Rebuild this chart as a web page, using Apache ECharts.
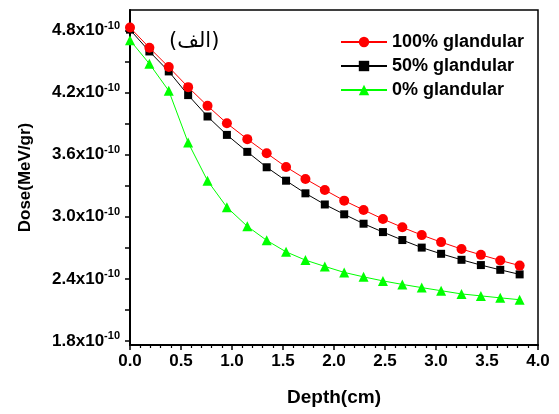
<!DOCTYPE html>
<html><head><meta charset="utf-8">
<script src="https://cdn.jsdelivr.net/npm/echarts@6/dist/echarts.min.js"></script>
<style>html,body{margin:0;padding:0;background:#fff}#c{width:559px;height:414px}</style>
</head><body><div id="c"></div>
<script>
// Depth in cm
const depth = [0, 0.19, 0.38, 0.57, 0.76, 0.95, 1.15, 1.34, 1.53, 1.72, 1.91, 2.10, 2.29, 2.48, 2.67, 2.86, 3.05, 3.25, 3.44, 3.63, 3.82];
// Dose in units of 1e-10 MeV/gr
const dose100 = [4.83, 4.635, 4.448, 4.254, 4.073, 3.904, 3.751, 3.615, 3.482, 3.366, 3.259, 3.156, 3.066, 2.978, 2.898, 2.823, 2.755, 2.688, 2.632, 2.578, 2.528];
const dose50  = [4.81, 4.599, 4.406, 4.177, 3.970, 3.792, 3.628, 3.479, 3.349, 3.227, 3.119, 3.024, 2.933, 2.852, 2.775, 2.702, 2.642, 2.584, 2.533, 2.487, 2.443];
const dose0   = [4.708, 4.480, 4.219, 3.718, 3.349, 3.092, 2.908, 2.772, 2.661, 2.581, 2.520, 2.462, 2.419, 2.380, 2.346, 2.315, 2.285, 2.254, 2.235, 2.216, 2.198];
const seriesNames = ['100% glandular', '50% glandular', '0% glandular'];
const yLabelValues = [1.8, 2.4, 3.0, 3.6, 4.2, 4.8];
const yTickValues = [1.8, 2.1, 2.4, 2.7, 3.0, 3.3, 3.6, 3.9, 4.2, 4.5, 4.8];
const xTickLabels = ['0.0', '0.5', '1.0', '1.5', '2.0', '2.5', '3.0', '3.5', '4.0'];

const FONT = "'Liberation Sans', Arial, sans-serif";
const pairs = arr => arr.map((v, i) => [depth[i], v]);

const chart = echarts.init(document.getElementById('c'));
chart.setOption({
  animation: false,
  backgroundColor: '#fff',
  title: {
    text: '(الف)', left: 169, top: 31, padding: 0,
    textStyle: { fontFamily: "'DejaVu Sans', sans-serif", fontSize: 21, fontWeight: 'normal', color: '#000' }
  },
  legend: {
    data: seriesNames, orient: 'vertical', left: 335, top: 28,
    itemWidth: 46, itemHeight: 13, itemGap: 6,
    textStyle: { fontFamily: FONT, fontSize: 18, fontWeight: 'bold', color: '#000', lineHeight: 18 }
  },
  grid: { left: 130, right: 21, top: 10, bottom: 69, show: true, borderColor: '#000', borderWidth: 1.5 },
  xAxis: {
    type: 'value', min: 0, max: 4, interval: 0.5,
    name: 'Depth(cm)', nameLocation: 'middle', nameGap: 43,
    nameTextStyle: { fontFamily: FONT, fontSize: 19, fontWeight: 'bold', color: '#000' },
    axisLine: { show: true, lineStyle: { color: '#000', width: 2 } },
    axisTick: { show: true, length: 5, lineStyle: { color: '#000', width: 1.5 } },
    minorTick: { show: true, splitNumber: 5, length: 3, lineStyle: { color: '#000', width: 1.2 } },
    splitLine: { show: false },
    axisLabel: {
      margin: 8, fontFamily: FONT, fontSize: 17, fontWeight: 'bold', color: '#000',
      formatter: v => xTickLabels[Math.round(v / 0.5)]
    }
  },
  yAxis: {
    type: 'value', min: 1.76, max: 5.0,
    name: 'Dose(MeV/gr)', nameLocation: 'middle', nameGap: 96,
    nameTextStyle: { fontFamily: FONT, fontSize: 17, fontWeight: 'bold', color: '#000' },
    axisLine: { show: true, lineStyle: { color: '#000', width: 2 } },
    axisTick: { show: true, length: 5, customValues: yTickValues, lineStyle: { color: '#000', width: 1.5 } },
    splitLine: { show: false },
    axisLabel: {
      margin: 10, customValues: yLabelValues,
      formatter: v => '{a|' + v.toFixed(1) + 'x10}{s|-10}',
      rich: {
        a: { fontFamily: FONT, fontSize: 17, fontWeight: 'bold', color: '#000' },
        s: { fontFamily: FONT, fontSize: 11, fontWeight: 'bold', color: '#000', padding: [0, 0, 10, 0] }
      }
    }
  },
  series: [
    { name: seriesNames[0], type: 'line', data: pairs(dose100), symbol: 'circle', symbolSize: 10,
      lineStyle: { color: '#ff0000', width: 1 }, itemStyle: { color: '#ff0000' }, z: 4 },
    { name: seriesNames[1], type: 'line', data: pairs(dose50), symbol: 'rect', symbolSize: 8,
      lineStyle: { color: '#000000', width: 1 }, itemStyle: { color: '#000000' }, z: 3 },
    { name: seriesNames[2], type: 'line', data: pairs(dose0), symbol: 'triangle', symbolSize: 10,
      lineStyle: { color: '#00ff00', width: 1 }, itemStyle: { color: '#00ff00' }, z: 2 }
  ]
});
</script>
</body></html>
